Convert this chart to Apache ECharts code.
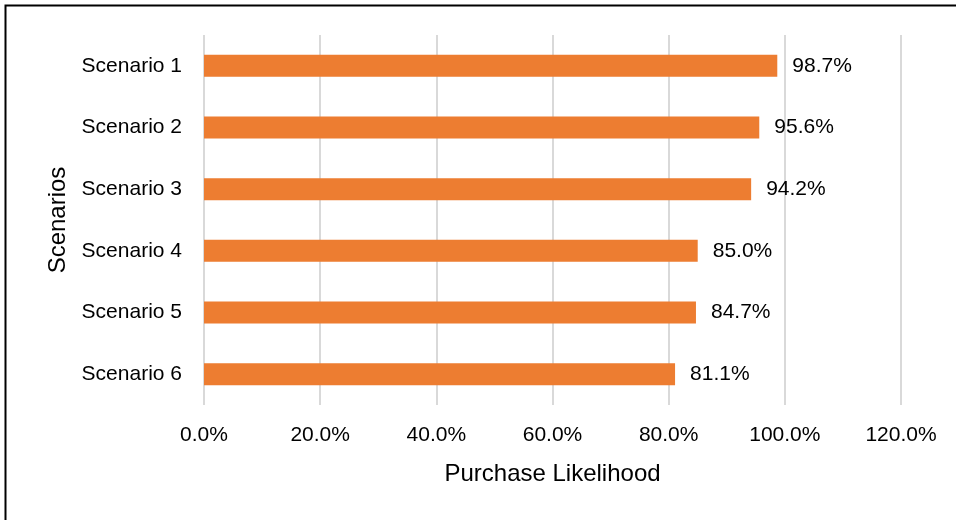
<!DOCTYPE html>
<html>
<head>
<meta charset="utf-8">
<script src="https://cdn.jsdelivr.net/npm/echarts@6/dist/echarts.min.js"></script>
<style>
  html, body { margin: 0; padding: 0; background: #fff; }
  #container { width: 956px; height: 520px; }
</style>
</head>
<body>
<div id="container"></div>
<script>
const container = document.getElementById('container');
const chartIns = echarts.init(container);

// data
const scenarios = ['Scenario 1', 'Scenario 2', 'Scenario 3', 'Scenario 4', 'Scenario 5', 'Scenario 6'];
const likelihood = [0.987, 0.956, 0.942, 0.850, 0.847, 0.811];

const FONT = 'Liberation Sans';

const option = {
  animation: false,
  textStyle: { fontFamily: FONT },
  grid: { left: 204, right: 55, top: 35, bottom: 115, containLabel: false },
  graphic: [{
    type: 'rect',
    shape: { x: 5.5, y: 5.5, width: 1000, height: 600 },
    style: { fill: 'none', stroke: '#000', lineWidth: 2 },
    silent: true
  }],
  xAxis: {
    type: 'value',
    min: 0,
    max: 1.2,
    interval: 0.2,
    name: 'Purchase Likelihood',
    nameLocation: 'middle',
    nameGap: 57,
    nameTextStyle: { fontSize: 24, color: '#000', fontFamily: FONT },
    axisLine: { show: false },
    axisTick: { show: false },
    axisLabel: {
      color: '#000', fontSize: 21, margin: 20,
      formatter: v => (v * 100).toFixed(1) + '%'
    },
    splitLine: { lineStyle: { color: '#d9d9d9', width: 2 } }
  },
  yAxis: {
    type: 'category',
    inverse: true,
    data: scenarios,
    name: 'Scenarios',
    nameLocation: 'middle',
    nameGap: 132,
    nameRotate: 90,
    nameTextStyle: { fontSize: 24, color: '#000', fontFamily: FONT },
    axisLine: { show: false },
    axisTick: { show: false },
    axisLabel: { color: '#000', fontSize: 21, margin: 22 }
  },
  series: [{
    type: 'bar',
    data: likelihood,
    barWidth: 22,
    itemStyle: { color: '#ED7D31' },
    label: {
      show: true,
      position: 'right',
      distance: 15,
      color: '#000',
      fontSize: 21,
      fontFamily: FONT,
      formatter: p => (p.value * 100).toFixed(1) + '%'
    }
  }]
};

chartIns.setOption(option);
</script>
</body>
</html>
